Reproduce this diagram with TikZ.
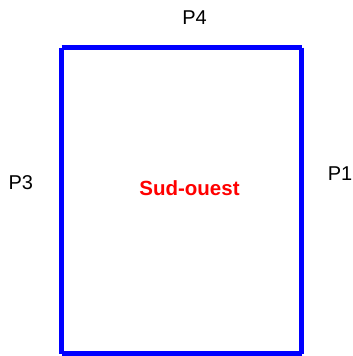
\documentclass[tikz,border=0pt]{standalone}
\usepackage{fontspec}
\setmainfont{Liberation Sans}
\definecolor{edgeblue}{RGB}{0,0,255}
\definecolor{labelred}{RGB}{255,0,0}
\tikzset{
  wall/.style={draw=edgeblue, line width=5pt, line cap=butt},
  plabel/.style={font=\fontsize{20}{20}\selectfont, text=black, inner sep=0pt, anchor=base},
  zonelabel/.style={font=\fontsize{20.5}{20.5}\selectfont\bfseries, text=labelred, inner sep=0pt, anchor=base}
}
\begin{document}
\begin{tikzpicture}[x=1pt, y=-1pt]
\useasboundingbox (0,0) rectangle (353,356);
\coordinate (tl) at (61.5,47.5);
\coordinate (tr) at (301.5,47.5);
\coordinate (bl) at (61.5,353.5);
\coordinate (br) at (301.5,353.5);
\draw[wall] (tl) -- (tr);
\draw[wall] (tr) -- (br);
\draw[wall] (br) -- (bl);
\draw[wall] (bl) -- (tl);
\node[plabel] (p4) at (194.5,24) {P4};
\node[plabel] (p3) at (20.8,189.5) {P3};
\node[plabel] (p1) at (340,180) {P1};
\node[zonelabel] (zone) at (189.5,195) {Sud-ouest};
\end{tikzpicture}
\end{document}
